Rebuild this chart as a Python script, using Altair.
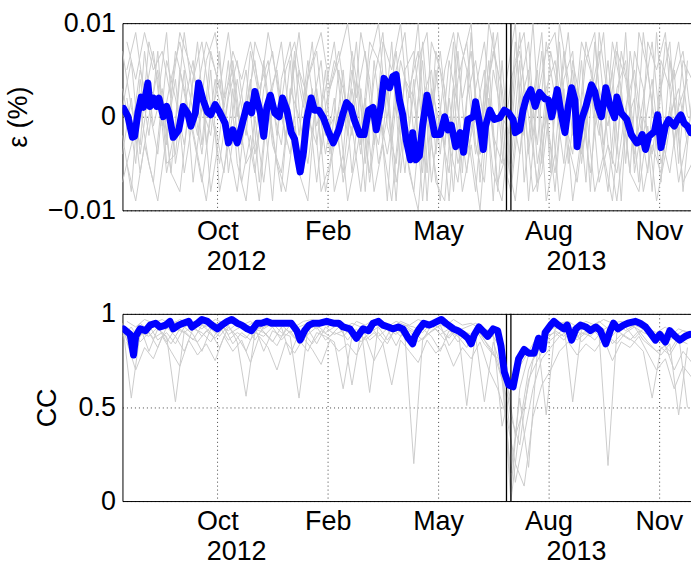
import altair as alt
import pandas as pd

FONT = "Liberation Sans"
START = pd.Timestamp("2012-07-31")

# ---------- x positions (days after 2012-07-31) and values ----------
# thick blue curve, strain panel (units of 0.001 %)
eps_blue_days = [1, 5, 9, 11, 14, 17, 19, 23, 25, 28,
                 31, 33, 37, 40, 42, 46, 51, 55, 59, 62,
                 66, 69, 73, 77, 80, 84, 88, 93, 96, 100,
                 104, 108, 113, 117, 120, 125, 128, 131, 134, 138,
                 142, 145, 149, 153, 156, 159, 161, 164, 167, 171,
                 174, 178, 182, 187, 191, 196, 200, 203, 207, 210,
                 215, 219, 223, 227, 230, 234, 237, 242, 245, 248,
                 251, 254, 257, 261, 263, 266, 269, 272, 276, 280,
                 283, 288, 292, 295, 298, 302, 306, 309, 313, 318,
                 320, 324, 327, 329, 333, 337, 342, 346, 350, 354,
                 356, 360, 363, 366, 370, 374, 378, 383, 386, 389,
                 394, 398, 401, 404, 407, 410, 412, 416, 420, 425,
                 428, 431, 434, 438, 442, 446, 448, 452, 457, 461,
                 466, 468, 471, 474, 477, 482, 485, 488, 492, 495,
                 500, 503, 506, 509, 512, 515]
eps_blue_milli = [0.9, 0, -2.2, -2.1, 0.4, 2.1, 1.0, 3.6, 1.1, 2.0,
                  1.1, 2.0, 0, 1.1, 0.4, -2.2, -1.4, 1.1, 0.4, -1.0,
                  0.4, 3.6, 1.8, 0.5, 0.2, 1.3, 0.5, -0.7, -2.8, -1.4,
                  -2.8, -1.0, 1.3, 0.4, 2.7, 0.4, -2.1, 1.1, 2.3, 0.4,
                  0, 2.0, 0.7, -1.7, -2.4, -4.6, -5.9, -3.8, -0.3, 2.0,
                  0.7, 0.7, -0.1, -1.7, -2.8, -1.4, 0.4, 1.5, 1.0, -0.3,
                  -1.9, -1.9, 0.7, 1.0, -1.4, 1.0, 4.1, 3.1, 4.3, 4.5,
                  1.8, 0.2, -2.4, -4.6, -1.7, -4.6, -4.2, -1.0, 2.3, 0,
                  -1.9, -1.9, 0, -1.4, -0.9, -3.2, -1.7, -3.8, -0.3, 0,
                  1.6, -1.0, -3.5, -1.0, 0.7, -0.3, -0.1, 0.7, 0.4, -0.3,
                  -1.7, -1.4, 0.7, 2.0, 2.9, 1.1, 2.6, 1.9, 1.8, 0,
                  2.9, 0, -1.7, 1.1, 3.1, 1.8, -3.2, -0.3, 1.1, 3.4,
                  2.7, 1.0, 0, 3.1, 1.1, -0.1, 2.1, 0.4, -0.3, -1.9,
                  -2.8, -2.7, -1.9, -3.5, -2.1, -1.6, 0.2, -3.3, -1.0, -0.3,
                  -1.0, -0.3, 0.2, -0.7, -1.0, -1.7]

# thick blue curve, correlation-coefficient panel
cc_blue_days = [1, 7, 10, 12, 16, 21, 25, 30, 34, 39,
                43, 46, 51, 55, 60, 63, 68, 72, 77, 81,
                86, 90, 95, 99, 104, 108, 113, 117, 122, 126,
                131, 135, 140, 144, 149, 153, 158, 161, 165, 169,
                173, 179, 185, 191, 196, 200, 206, 212, 218, 223,
                227, 232, 236, 241, 245, 250, 254, 259, 263, 265,
                269, 273, 278, 282, 289, 293, 300, 304, 309, 313,
                316, 319, 323, 328, 331, 336, 340, 343, 346, 350,
                354, 356, 359, 364, 368, 373, 377, 381, 383, 388,
                391, 395, 400, 403, 407, 411, 415, 420, 424, 429,
                433, 438, 442, 445, 449, 454, 458, 465, 469, 474,
                478, 483, 487, 492, 496, 501, 505, 510, 514]
cc_blue = [0.92, 0.89, 0.78, 0.88, 0.92, 0.91, 0.94, 0.95, 0.93, 0.94,
           0.96, 0.92, 0.94, 0.95, 0.96, 0.93, 0.95, 0.97, 0.96, 0.94,
           0.92, 0.94, 0.96, 0.97, 0.95, 0.94, 0.92, 0.91, 0.95, 0.95,
           0.96, 0.95, 0.95, 0.95, 0.95, 0.95, 0.91, 0.86, 0.91, 0.94,
           0.95, 0.95, 0.96, 0.95, 0.95, 0.93, 0.92, 0.87, 0.92, 0.91,
           0.95, 0.96, 0.94, 0.93, 0.92, 0.93, 0.92, 0.87, 0.84, 0.88,
           0.92, 0.95, 0.94, 0.95, 0.97, 0.95, 0.92, 0.91, 0.89, 0.87,
           0.84, 0.89, 0.93, 0.90, 0.88, 0.92, 0.91, 0.83, 0.69, 0.62,
           0.61, 0.67, 0.76, 0.81, 0.79, 0.79, 0.87, 0.81, 0.90, 0.94,
           0.96, 0.94, 0.92, 0.94, 0.86, 0.92, 0.94, 0.93, 0.91, 0.93,
           0.91, 0.84, 0.91, 0.95, 0.92, 0.94, 0.95, 0.96, 0.95, 0.93,
           0.90, 0.86, 0.89, 0.85, 0.91, 0.88, 0.86, 0.88, 0.89]

# thin grey curves (individual stations), sampled every 8 days;
# first sample day of each curve given in the offset tables
gray_step_days = 8
eps_gray_milli = {
    "g1": [3, -2, 5, 1, -4, 6, 2, -3, 4, 8, 1, -5, 2,
           6, -1, -6, 3, 7, 0, -4, 5, 2, -7, 1, 6, 3,
           -2, 9, 4, -5, 0, 7, -3, -8, 2, 5, -4, 6, 1,
           -6, 3, 8, -2, -5, 4, 7, 0, -7, 3, 6, -1, 5,
           -4, 2, 7, -3, -6, 1, 5, -2, 4, -5, 0, 3, -3],
    "g2": [-4, 2, -6, 0, 5, -3, 7, 3, -2, -7, 0, 4, -3,
           -8, 1, 6, -2, 3, 8, -1, -5, 4, 7, -2, 0, -6,
           3, -4, 6, 10, -1, -5, 4, 2, -6, 8, 5, -3, -7,
           2, 6, -1, 9, -4, -8, 1, 5, -3, 8, 2, -5, 6,
           1, -6, 3, -1, 7, 4, -4, 2, 8, -2, -6, 1, 4],
    "g3": [7, 1, -3, 8, 4, -6, -1, 9, 2, -4, 5, -8, -3,
           4, -2, 8, 5, -3, -6, 2, 9, 0, -3, 5, -8, -4,
           7, 1, -6, 3, -9, 5, 9, -2, 6, -7, 1, -9, 4,
           8, -3, -7, 5, 0, -2, 9, -4, 5, -9, -4, 7, -2,
           8, 5, -1, -8, 3, 6, -5, 9, 1, -7, 6, -2, 5],
    "g4": [-7, -3, 1, -5, -9, -2, 4, -6, 0, 3, -8, -2, 6,
           -5, -9, 0, -7, 1, -3, 6, -6, -9, 3, -4, 2, -7,
           -1, -8, 1, -3, 4, -7, -1, -5, 8, -3, -9, 2, -5,
           -1, -8, 3, -6, -9, 1, -4, 3, -8, 0, -6, 3, -9,
           -2, 4, -7, -3, -9, -1, 2, -8, -3, -6, 1, -7, -2],
    "g5": [1, 6, -4, 3, 2, 9, -5, 1, 6, -3, 7, 3, 9,
           0, 5, -4, 1, -9, 4, 8, -2, 6, -1, 3, 8, -1,
           5, -3, 8, 6, 2, -9, 5, 7, -1, 0, 7, -2, 9,
           5, -4, 1, 7, 3, -5, 6, -9, 2, 7, 9, 0, -4,
           6, -8, 9, 2, 8, -5, 7, 3, -8, 6, 3, 8, 0],
    "g6": [-2, -8, 4, -2, 7, -5, -4, 5, -7, 1, -2, 7, -6,
           1, -5, -3, 6, -2, -8, 3, 0, -5, 2, -8, -3, 5,
           -6, 3, -7, 1, -4, 2, -6, 4, -9, 3, -1, -6, 7,
           -4, 0, 5, -9, 6, -7, 3, 8, -5, 1, -8, 4, 7,
           -5, 3, -2, 6, -4, 9, -6, 0, -4, 3, 8, -5, 6],
    "g7": [5, 9, 2, 7, -1, 4, 8, 3, -2, 6, 9, 2, 5,
           -3, 7, 2, 9, 4, -2, 6, 1, 8, -4, 3, 7, 0,
           8, -5, 4, 9, -3, 6, 2, 10, -6, 7, 3, -8, 6,
           10, -7, 4, 9, -6, 8, -2, 10, -5, 7, 2, 9, -3,
           6, 9, -4, 8, 3, -6, 9, 5, -2, 8, 4, 7, -1],
    "g8": [-5, -9, -3, -7, 2, -6, -8, 1, -4, -9, -1, -6, 3,
           -7, -2, -9, 2, -5, -8, -1, -6, 3, -8, -5, 1, -9,
           -4, 2, -8, -3, -9, 1, -6, -10, 2, -7, -9, 3, -8,
           -3, -10, 2, -7, -4, -9, 1, -8, -6, 2, -9, -3, -7,
           1, -8, -4, -9, 2, -6, -8, -1, -9, -4, 2, -7, -5],
    "g9": [2, -5, 7, -1, 3, -6, 5, 0, 8, -3, 4, -1, 6,
           -2, 4, -7, 2, 5, -3, 7, -5, 1, 6, -4, 5, -2,
           4, -8, 6, -2, 8, -6, 3, 7, -9, 5, -3, 8, -6,
           9, -4, 6, -8, 4, 10, -7, 2, 9, -6, 8, -5, 3,
           -7, 8, -3, 5, -9, 7, 0, -6, 9, -3, 5, -8, 2],
    "g10": [8, 4, 9, 5, 7, 2, 9, 6, 3, 8, 5, 1, 7,
            4, 8, 3, 6, -2, 5, 8, 2, 6, 9, 3, 6, 10,
            2, 7, -3, 8, 5, 10, -1, 6, 9, -4, 5, 9, 2,
            7, -4, 10, 5, -8, 6, 9, -2, 7, -6, 10, 4, -3,
            8, 3, 9, -5, 7, 2, -7, 8, 5, 9, -3, 6, 4],
}
eps_gray_offset_days = {"g1": 0, "g2": 0, "g3": 0, "g4": 0, "g5": 0, "g6": 0,
                        "g7": 4, "g8": 4, "g9": 4, "g10": 4}

cc_gray_pct = {
    "b1": [95, 55, 90, 88, 93, 85, 92, 90, 94, 88, 93, 95, 89,
           92, 94, 86, 93, 95, 90, 88, 55, 92, 94, 90, 93, 95,
           91, 88, 94, 96, 92, 89, 94, 93, 90, 95, 92, 87, 93,
           51, 90, 92, 88, 80, 5, 60, 78, 85, 90, 93, 95, 53,
           92, 94, 90, 93, 95, 91, 94, 92, 86, 90, 88, 92, 90],
    "b2": [90, 85, 93, 80, 92, 88, 53, 91, 86, 94, 90, 82, 93,
           88, 80, 92, 90, 85, 93, 78, 90, 92, 84, 93, 89, 91,
           62, 90, 94, 88, 92, 83, 93, 90, 86, 94, 89, 92, 85,
           90, 88, 53, 85, 70, 0, 40, 70, 82, 88, 90, 86, 92,
           89, 93, 88, 19, 90, 93, 87, 92, 89, 85, 80, 88, 86],
    "b3": [92, 80, 88, 94, 86, 90, 84, 93, 89, 80, 92, 88, 94,
           85, 56, 90, 88, 93, 86, 91, 84, 89, 93, 86, 90, 88,
           93, 85, 90, 93, 86, 92, 88, 20, 86, 91, 94, 83, 90,
           86, 92, 84, 78, 75, 45, 30, 65, 75, 84, 88, 92, 85,
           90, 88, 93, 86, 91, 88, 85, 80, 55, 82, 78, 86, 84],
    "b4": [88, 93, 85, 90, 82, 93, 88, 80, 92, 90, 85, 93, 86,
           90, 87, 93, 80, 91, 88, 94, 86, 80, 90, 88, 85, 60,
           88, 92, 86, 90, 84, 93, 89, 85, 92, 88, 80, 91, 88,
           82, 93, 86, 80, 65, 15, 55, 18, 80, 86, 91, 88, 93,
           85, 90, 92, 88, 84, 90, 93, 86, 82, 78, 84, 46, 82],
    "b5": [94, 88, 95, 91, 95, 92, 96, 93, 95, 92, 96, 94, 91,
           95, 93, 96, 92, 95, 94, 90, 93, 95, 92, 96, 94, 92,
           95, 93, 58, 95, 93, 96, 94, 91, 95, 93, 96, 94, 91,
           93, 95, 92, 90, 40, 60, 72, 80, 88, 46, 92, 94, 91,
           95, 93, 96, 92, 94, 95, 93, 90, 88, 91, 86, 89, 50],
    "b6": [96, 93, 97, 95, 97, 94, 97, 95, 96, 93, 97, 95, 96,
           94, 96, 92, 97, 95, 96, 93, 96, 97, 94, 96, 95, 90,
           96, 94, 97, 95, 92, 96, 94, 97, 95, 96, 93, 97, 94,
           95, 92, 90, 85, 65, 35, 50, 75, 85, 92, 95, 96, 93,
           96, 94, 97, 95, 96, 93, 95, 92, 90, 93, 88, 91, 90],
    "b7": [85, 70, 82, 76, 88, 80, 72, 86, 78, 84, 75, 88, 80,
           86, 74, 88, 82, 70, 85, 79, 87, 81, 73, 86, 80, 84,
           78, 88, 75, 84, 62, 86, 80, 74, 86, 79, 84, 72, 82,
           76, 85, 70, 60, 45, 20, 8, 45, 62, 70, 80, 85, 78,
           84, 80, 87, 75, 85, 82, 88, 79, 70, 76, 60, 72, 66],
    "b8": [91, 84, 93, 87, 90, 84, 92, 88, 85, 91, 87, 93, 84,
           90, 86, 93, 88, 83, 92, 87, 90, 84, 91, 88, 93, 86,
           92, 86, 90, 84, 93, 88, 91, 85, 89, 92, 86, 91, 88,
           85, 90, 82, 75, 55, 10, 35, 60, 76, 82, 88, 91, 86,
           90, 86, 92, 84, 89, 86, 91, 85, 80, 83, 70, 80, 74],
}
cc_gray_offset_days = {"b1": 0, "b2": 0, "b3": 0, "b4": 0, "b5": 0,
                       "b6": 4, "b7": 4, "b8": 4}

# axis / annotation dates
month_ticks = [(2012, 10, 25), (2013, 2, 2), (2013, 5, 13), (2013, 8, 21), (2013, 11, 29)]
year_labels = [(2012, 11, 11), (2013, 9, 15)]
event_days = ["2013-07-14", "2013-07-18"]
x_range = [(2012, 7, 31, 0), (2013, 12, 28, 5)]


def dt(t):
    if len(t) == 4:
        return alt.DateTime(year=t[0], month=t[1], date=t[2], hours=t[3])
    return alt.DateTime(year=t[0], month=t[1], date=t[2])


def to_dates(days):
    return START + pd.to_timedelta(days, unit="D")


def gray_frame(series, offsets, scale):
    rows = []
    for k, vals in series.items():
        for i, v in enumerate(vals):
            rows.append({"date": START + pd.Timedelta(days=offsets[k] + i * gray_step_days),
                         "v": v / scale, "s": k})
    return pd.DataFrame(rows)


eps_blue_df = pd.DataFrame({"date": to_dates(eps_blue_days), "v": [v / 1000 for v in eps_blue_milli]})
cc_blue_df = pd.DataFrame({"date": to_dates(cc_blue_days), "v": cc_blue})
eps_gray_df = gray_frame(eps_gray_milli, eps_gray_offset_days, 1000)
cc_gray_df = gray_frame(cc_gray_pct, cc_gray_offset_days, 100)
event_df = pd.DataFrame({"date": pd.to_datetime(event_days)})

FS = 27
xscale = alt.Scale(domain=[dt(x_range[0]), dt(x_range[1])])

month_axis = alt.Axis(orient="bottom", values=[dt(t) for t in month_ticks], format="%b", title=None,
                      grid=True, gridDash=[1, 3], gridColor="#444444", gridWidth=1,
                      ticks=False, domain=True, domainColor="black", domainWidth=1,
                      labelFontSize=FS, labelPadding=8, labelFlush=False, labelOverlap=False)
year_axis = alt.Axis(orient="bottom", values=[dt(t) for t in year_labels], format="%Y", title=None,
                     grid=False, ticks=False, domain=False,
                     labelFontSize=FS, labelPadding=38, labelFlush=False, labelOverlap=False)
top_axis = alt.Axis(orient="top", title=None, grid=False, ticks=False, labels=False,
                    domain=True, domainColor="black", domainWidth=1)


def panel(gray_df, blue_df, ydom, yvals, yfmt, ytitle, title_x):
    yscale = alt.Scale(domain=ydom, nice=False, zero=False)
    yaxis = alt.Axis(values=yvals, format=yfmt, title=ytitle, titleFontSize=FS, titleFontWeight="normal",
                     titleX=title_x, titleY=94, grid=True, gridDash=[1, 3], gridColor="#444444",
                     ticks=False, domain=True, domainColor="black", labelFontSize=FS, labelPadding=7,
                     labelOverlap=False, labelFlush=False)
    gray = alt.Chart(gray_df).mark_line(color="#cccccc", strokeWidth=1, clip=True).encode(
        x=alt.X("date:T", scale=xscale, axis=month_axis),
        y=alt.Y("v:Q", scale=yscale, axis=yaxis),
        detail="s:N")
    rules = alt.Chart(event_df).mark_rule(color="black", strokeWidth=1.3).encode(
        x=alt.X("date:T", scale=xscale, axis=top_axis))
    blue = alt.Chart(blue_df).mark_line(color="#0000ff", strokeWidth=7, strokeJoin="round",
                                        strokeCap="round", clip=True).encode(
        x=alt.X("date:T", scale=xscale, axis=year_axis),
        y=alt.Y("v:Q", scale=yscale, axis=yaxis))
    return alt.layer(gray, rules, blue).resolve_axis(x="independent").properties(width=571, height=188)


top = panel(eps_gray_df, eps_blue_df, [-0.01, 0.01], [-0.01, 0, 0.01], ".2~f", "ε (%)", -90)
bottom = panel(cc_gray_df, cc_blue_df, [0, 1], [0, 0.5, 1], "~g", "CC", -61)

chart = alt.vconcat(top, bottom, spacing=26).properties(
    padding={"left": 4, "top": 8, "right": 0, "bottom": 0}
).configure_view(stroke=None).configure_axis(
    labelFont=FONT, titleFont=FONT, labelColor="black", titleColor="black"
)

chart.save("out.html", embed_options={"renderer": "svg", "actions": False})
